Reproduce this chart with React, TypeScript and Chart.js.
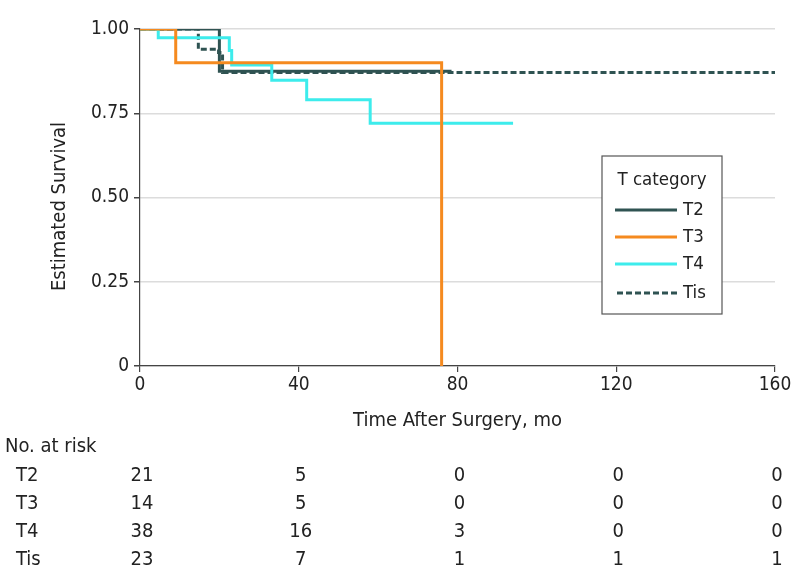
import React, { useEffect, useRef } from "react";
import { Chart, registerables } from "chart.js";

Chart.register(...registerables);

const FONT = "'DejaVu Sans Condensed', 'DejaVu Sans', sans-serif";

// Kaplan-Meier step data (time in months, survival)
const t2Times = [0, 20, 78.5];
const t2Surv = [1, 0.875, 0.875];

const t3Times = [0, 9, 76];
const t3Surv = [1, 0.9, 0];

const t4Times = [0, 4.6, 22.5, 23.1, 33.2, 42, 58, 94];
const t4Surv = [1, 0.974, 0.936, 0.893, 0.848, 0.79, 0.72, 0.72];

const tisTimes = [0, 14.7, 19.8, 20.8, 160];
const tisSurv = [1, 0.94, 0.93, 0.871, 0.871];

const seriesNames = ["T2", "T3", "T4", "Tis"];
const seriesColors = ["#2f5352", "#f58a1f", "#3decec", "#2f5352"];

const xTicks = [0, 40, 80, 120, 160];
const yTicks = [0, 0.25, 0.5, 0.75, 1];
const yTickLabels = ["0", "0.25", "0.50", "0.75", "1.00"];

const riskTimes = [0, 40, 80, 120, 160];
const riskT2 = [21, 5, 0, 0, 0];
const riskT3 = [14, 5, 0, 0, 0];
const riskT4 = [38, 16, 3, 0, 0];
const riskTis = [23, 7, 1, 1, 1];

const xTitle = "Time After Surgery, mo";
const yTitle = "Estimated Survival";
const legendTitle = "T category";
const riskTitle = "No. at risk";

function pts(times: number[], surv: number[]) {
  return times.map((t, i) => ({ x: t, y: surv[i] }));
}

export default function App() {
  const ref = useRef<HTMLCanvasElement | null>(null);

  useEffect(() => {
    document.body.style.margin = "0";
    const canvas = ref.current;
    if (!canvas) return;

    const overlay = {
      id: "overlay",
      afterDraw(chart: any) {
        const ctx = chart.ctx;
        const xs = chart.scales.x;
        const area = chart.chartArea;
        ctx.save();
        ctx.fillStyle = "#222";
        // axis titles
        ctx.font = `20px ${FONT}`;
        ctx.textAlign = "center";
        ctx.textBaseline = "middle";
        ctx.fillText(xTitle, (area.left + area.right) / 2, 421);
        ctx.save();
        ctx.translate(60, (area.top + area.bottom) / 2 + 9);
        ctx.rotate(-Math.PI / 2);
        ctx.fillText(yTitle, 0, 0);
        ctx.restore();

        // legend box
        const lx = 602, ly = 156, lw = 120, lh = 158;
        ctx.fillStyle = "#fff";
        ctx.fillRect(lx, ly, lw, lh);
        ctx.strokeStyle = "#555";
        ctx.lineWidth = 1.2;
        ctx.strokeRect(lx, ly, lw, lh);
        ctx.font = `18.5px ${FONT}`;
        ctx.fillStyle = "#222";
        ctx.textAlign = "center";
        ctx.fillText(legendTitle, lx + lw / 2, 180);
        const rowsY = [210, 237, 264, 293];
        seriesNames.forEach((name, i) => {
          ctx.beginPath();
          ctx.strokeStyle = seriesColors[i];
          ctx.lineWidth = 3;
          ctx.setLineDash(i === 3 ? [6, 3] : []);
          ctx.moveTo(i === 3 ? 617 : 615, rowsY[i]);
          ctx.lineTo(677, rowsY[i]);
          ctx.stroke();
          ctx.setLineDash([]);
          ctx.fillStyle = "#222";
          ctx.textAlign = "left";
          ctx.fillText(name, 683, rowsY[i]);
        });

        // number at risk table
        ctx.font = `20px ${FONT}`;
        ctx.textAlign = "left";
        ctx.fillText(riskTitle, 5, 447);
        const rows = [riskT2, riskT3, riskT4, riskTis];
        const ry = [476, 504, 532, 560];
        rows.forEach((r, i) => {
          ctx.textAlign = "left";
          ctx.fillText(seriesNames[i], 16, ry[i]);
          ctx.textAlign = "center";
          r.forEach((v, j) => {
            ctx.fillText(String(v), xs.getPixelForValue(riskTimes[j]) + 2, ry[i]);
          });
        });
        ctx.restore();
      },
    };

    const mk = (i: number, times: number[], surv: number[], order: number) => ({
      label: seriesNames[i],
      data: pts(times, surv),
      borderColor: seriesColors[i],
      backgroundColor: seriesColors[i],
      borderWidth: 3,
      borderDash: i === 3 ? [6, 3] : [],
      stepped: "before" as const,
      pointRadius: 0,
      fill: false,
      order,
    });

    const chart = new Chart(canvas, {
      type: "line",
      data: {
        datasets: [
          mk(0, t2Times, t2Surv, 3),
          mk(1, t3Times, t3Surv, 1),
          mk(2, t4Times, t4Surv, 2),
          mk(3, tisTimes, tisSurv, 4),
        ],
      },
      options: {
        animation: false,
        responsive: false,
        layout: { padding: { left: 0, top: 29, right: 19, bottom: 153 } },
        plugins: { legend: { display: false }, tooltip: { enabled: false } },
        scales: {
          x: {
            type: "linear",
            min: 0,
            max: 160,
            afterFit: (s: any) => { s.height = 69; },
            afterBuildTicks: (s: any) => { s.ticks = xTicks.map((v) => ({ value: v })); },
            border: { color: "#444", width: 1.2 },
            grid: { drawOnChartArea: false, drawTicks: true, tickLength: 6, color: "#444", lineWidth: 1.2 },
            ticks: { color: "#222", font: { family: FONT, size: 19 }, padding: 2, maxRotation: 0 },
          },
          y: {
            type: "linear",
            min: 0,
            max: 1,
            afterFit: (s: any) => { s.width = 140; },
            afterBuildTicks: (s: any) => { s.ticks = yTicks.map((v) => ({ value: v })); },
            border: { color: "#444", width: 1.2 },
            grid: { color: "#dcdcdc", lineWidth: 1.5, tickColor: "#444", tickLength: 6, drawTicks: true },
            ticks: {
              color: "#222",
              font: { family: FONT, size: 19 },
              padding: 5,
              callback: (v: any) => {
                const idx = yTicks.indexOf(Number(v));
                return idx >= 0 ? yTickLabels[idx] : "";
              },
            },
          },
        },
      },
      plugins: [overlay],
    });
    return () => chart.destroy();
  }, []);

  return <canvas ref={ref} width={794} height={588} style={{ display: "block" }} />;
}
